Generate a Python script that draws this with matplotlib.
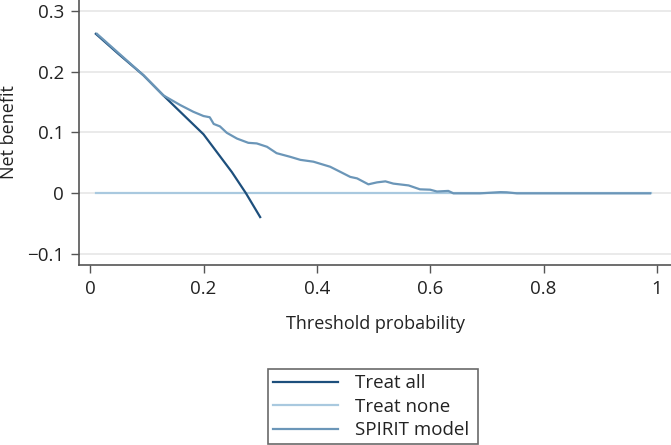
import matplotlib; matplotlib.use("Agg")
import matplotlib.pyplot as plt

# Decision curve values
treat_all_x = [0.01, 0.05, 0.094, 0.129, 0.15, 0.20, 0.25, 0.275, 0.30]
treat_all_y = [0.262, 0.229, 0.194, 0.161, 0.142, 0.097, 0.035, 0.0, -0.039]

treat_none_x = [0.01, 0.99]
treat_none_y = [0.0, 0.0]

spirit_x = [0.012, 0.094, 0.129, 0.159, 0.182, 0.200, 0.211, 0.218, 0.229, 0.241,
            0.259, 0.279, 0.294, 0.312, 0.329, 0.353, 0.371, 0.394, 0.4235, 0.441,
            0.459, 0.471, 0.491, 0.506, 0.521, 0.535, 0.562, 0.582, 0.600, 0.612,
            0.632, 0.641, 0.688, 0.724, 0.735, 0.753, 0.988]
spirit_y = [0.262, 0.194, 0.161, 0.145, 0.134, 0.127, 0.125, 0.114, 0.110, 0.0995,
            0.090, 0.083, 0.082, 0.0765, 0.066, 0.060, 0.055, 0.052, 0.0437, 0.0355,
            0.027, 0.0246, 0.0148, 0.018, 0.0197, 0.016, 0.013, 0.0066, 0.006, 0.003,
            0.004, 0.0, 0.0, 0.002, 0.0017, 0.0, 0.0]

x_ticks = [0, 0.2, 0.4, 0.6, 0.8, 1]
x_labels = ["0", "0.2", "0.4", "0.6", "0.8", "1"]
y_ticks = [-0.1, 0, 0.1, 0.2, 0.3]
y_labels = ["\u22120.1", "0", "0.1", "0.2", "0.3"]

plt.rcParams["font.family"] = ["Open Sans", "DejaVu Sans"]
TXT = "#222222"

fig = plt.figure(figsize=(6.71, 4.45), dpi=100)
ax = fig.add_axes([0.118, 0.4045, 0.882, 0.5955])

for y in y_ticks:
    ax.axhline(y, color="#e6e6e6", lw=1.2, zorder=0)

l2, = ax.plot(treat_none_x, treat_none_y, color="#a9c9df", lw=1.6, label="Treat none")
l1, = ax.plot(treat_all_x, treat_all_y, color="#1d4f7c", lw=1.6, label="Treat all")
l3, = ax.plot(spirit_x, spirit_y, color="#6b96b8", lw=1.6, label="SPIRIT model")

ax.set_xlim(-0.0194, 1.025)
ax.set_ylim(-0.1177, 0.3176)
ax.set_xticks(x_ticks)
ax.set_xticklabels(x_labels)
ax.set_yticks(y_ticks)
ax.set_yticklabels(y_labels)
ax.tick_params(direction="out", length=6, width=1, color="#555555",
               labelsize=13.5, labelcolor=TXT, pad=5)
for s in ["top", "right"]:
    ax.spines[s].set_visible(False)
for s in ["left", "bottom"]:
    ax.spines[s].set_color("#555555")
    ax.spines[s].set_linewidth(1.2)

ax.set_xlabel("Threshold probability", fontsize=13, color=TXT, labelpad=12)
ax.set_ylabel("Net benefit", fontsize=13, color=TXT, labelpad=6)

leg = fig.legend(handles=[l1, l2, l3], loc="lower left",
                 bbox_to_anchor=(0.3994, 0.002, 0.313, 0.187), mode="expand",
                 fontsize=13.5, frameon=True, fancybox=False, borderaxespad=0,
                 handlelength=3.5, labelspacing=0.3, borderpad=0.25, handletextpad=0.9)
leg.get_frame().set_edgecolor("#444444")
leg.get_frame().set_linewidth(1.2)
for t in leg.get_texts():
    t.set_color(TXT)

fig.savefig("out.png", dpi=100)
